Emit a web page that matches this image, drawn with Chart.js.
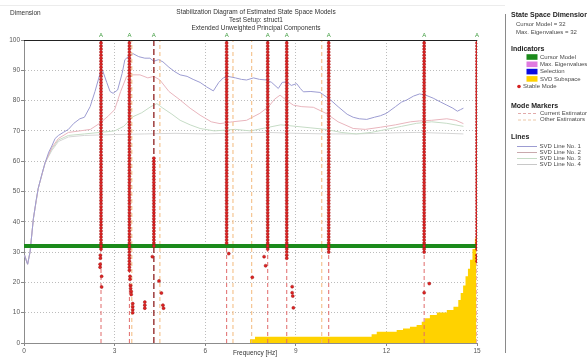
<!DOCTYPE html>
<html>
<head>
<meta charset="utf-8">
<script src="https://cdn.jsdelivr.net/npm/chart.js@4.4.1/dist/chart.umd.min.js"></script>
<style>
html, body { margin: 0; padding: 0; background: #fff; }
</style>
</head>
<body>
<canvas id="stabChart" width="587" height="360"></canvas>
<script>
// --- Data ---
// stable mode columns: frequency, highest and lowest stable model order
const colFreq = [2.55, 3.49, 4.30, 6.71, 8.07, 8.70, 10.09, 13.25, 15.0];
const colTop  = [100, 100, 61, 100, 100, 100, 100, 100, 100];
const colLow  = [31, 24, 32, 33, 31, 28, 30, 30, 31];

// isolated stable poles
const looseFreq  = [2.53, 2.53, 2.52, 2.52, 2.57, 2.57, 3.51, 3.51, 3.53, 3.53, 3.55, 3.55, 3.60, 3.60, 3.60, 3.60,
                    4.00, 4.00, 4.00, 4.25, 4.47, 4.55, 4.60, 4.62, 6.78, 7.95, 8.00, 7.56,
                    8.88, 8.88, 8.90, 8.92, 13.25, 13.42, 15.0, 15.0, 15.0];
const looseOrder = [29, 28, 26, 25, 22, 18.5, 22, 21, 19, 18, 17, 16, 13, 12, 11, 10,
                    13.5, 12.5, 11.5, 28.5, 20.5, 16.5, 12.5, 11.5, 29.5, 28.5, 25.5, 21.7,
                    18.6, 16.6, 15.5, 11.6, 16.6, 19.6, 29, 28, 27];

// other estimators (dashed markers)
const otherFreq = [3.57, 4.50, 6.92, 7.54, 9.86];

// SVD lines
const svd1Freq = [0.02, 0.08, 0.12, 0.2, 0.25, 0.31, 0.4, 0.47, 0.6, 0.7, 0.82, 0.92, 1.03, 1.14, 1.3, 1.47, 1.65, 1.85, 2.0, 2.19,
                  2.35, 2.52, 2.6, 2.74, 2.85, 2.95, 3.1, 3.25, 3.34, 3.45, 3.61, 3.8, 4.0, 4.17, 4.3, 4.45, 4.6, 4.8, 5.0, 5.17,
                  5.4, 5.6, 5.83, 6.05, 6.27, 6.45, 6.6, 6.75, 7.0, 7.2, 7.37, 7.6, 7.8, 8.03, 8.2, 8.42, 8.55, 8.7, 8.85, 9.03,
                  9.15, 9.25, 9.5, 9.8, 10.13, 10.4, 10.7, 10.9, 11.1, 11.35, 11.6, 11.8, 12.0, 12.3, 12.5, 12.67, 12.9, 13.1, 13.3, 13.55,
                  13.8, 14.0, 14.2, 14.35, 14.45, 14.55];
const svd1Val  = [29, 27, 26, 30, 35, 41, 47, 51, 56, 59.5, 63, 65, 67.5, 68.5, 69.5, 70.5, 72.5, 74, 74.5, 78,
                  83, 89, 90, 86, 83, 82.4, 83.5, 89, 93.5, 94.5, 95.5, 94.5, 94, 94, 93, 93.5, 92.8, 91, 89.5, 88.5,
                  88, 87, 86, 84.5, 83.2, 86, 87.5, 88, 87.5, 87, 86.8, 87.5, 87, 86.8, 86, 84, 86, 86.2, 85, 85.6,
                  84, 82.9, 83, 82.7, 80.4, 78, 75.5, 74.5, 74, 73.8, 74.5, 75, 75.8, 78, 79.5, 80.2, 81.5, 82.2, 81.8, 80.8,
                  79.5, 78.5, 77.5, 76.5, 77, 77.5];

const svd2Freq = [0.02, 0.12, 0.2, 0.31, 0.47, 0.7, 0.92, 1.14, 1.47, 1.85, 2.2, 2.52, 2.8, 3.0, 3.2, 3.4, 3.6, 3.84, 4.1, 4.3,
                  4.5, 4.8, 5.17, 5.5, 5.83, 6.2, 6.49, 6.9, 7.37, 7.81, 8.1, 8.3, 8.48, 8.7, 8.92, 9.2, 9.58, 10.0, 10.4, 10.9,
                  11.3, 11.8, 12.3, 12.8, 13.1, 13.5, 14.0, 14.3, 14.55];
const svd2Val  = [29, 26, 30, 41, 51, 59.5, 64.5, 67.5, 69.5, 70, 70.5, 72.6, 75, 77, 83, 88, 88.5, 88.5, 87.5, 88,
                  86.8, 83, 80.2, 77.5, 75.2, 73, 72.4, 73, 73.5, 75.8, 78, 80.5, 81.8, 80, 78.5, 78, 77.8, 75.8, 73, 70.8,
                  70.5, 71.2, 72, 73, 73.3, 73.5, 74, 73.5, 72.4];

const svd3Freq = [0.02, 0.12, 0.2, 0.31, 0.47, 0.7, 0.92, 1.14, 1.47, 2.0, 2.52, 3.0, 3.3, 3.61, 3.9, 4.2, 4.4, 4.6, 4.9, 5.17,
                  5.5, 5.83, 6.3, 7.0, 7.5, 8.0, 8.5, 9.0, 9.5, 10.0, 10.5, 11.0, 11.5, 12.0, 12.5, 13.0, 13.5, 14.0, 14.55];
const svd3Val  = [29, 26, 30, 41, 51, 59.5, 64, 67, 68.5, 69, 69.5, 70, 71.5, 74.7, 76, 78, 79, 77.5, 75.5, 73.5,
                  72, 70.8, 70, 70.5, 70, 71, 72, 71.5, 71, 70.5, 69.5, 69, 69.5, 70.5, 71.5, 72.5, 73, 72.5, 71.5];

const svd4Freq = [0.02, 0.12, 0.2, 0.31, 0.47, 0.7, 0.92, 1.14, 1.47, 2.0, 3.0, 4.0, 5.0, 6.0, 7.0, 8.0, 9.0, 10.0, 11.0, 12.0,
                  13.0, 14.0, 14.55];
const svd4Val  = [29, 26, 30, 41, 51, 59.5, 63.5, 66.5, 68, 68.5, 68.8, 69, 69.2, 69, 69.3, 69.5, 69.2, 69, 69, 69.3,
                  69.5, 69.2, 69];

// SVD subspace (step profile)
const subFreq = [7.48, 7.48, 7.65, 11.51, 11.68, 12.34, 12.55, 12.78, 13.0, 13.17, 13.28, 13.44, 13.67, 14.0, 14.22,
                 14.38, 14.46, 14.54, 14.62, 14.7, 14.77, 14.85, 14.93, 14.98];
const subVal  = [0, 1.2, 2.1, 2.9, 3.7, 4.3, 4.8, 5.4, 5.9, 7.0, 8.2, 9.2, 10.1, 10.9, 12,
                 14.2, 16.5, 19, 22, 24.5, 27.5, 31, 34.5, 39.5];

const cursorModel = 32;
const maxEigen = 32;
const xTicks = [0, 3, 6, 9, 12, 15];

// --- Helpers ---
const FONT = "'Liberation Sans', Arial, sans-serif";
const zip = (xs, ys) => xs.map((x, i) => ({ x: x, y: ys[i] }));
const vline = (f) => [{ x: f, y: 0 }, { x: f, y: 100 }];

const stableDots = [];
colFreq.forEach((f, i) => {
    for (let n = colLow[i]; n <= colTop[i]; n++) stableDots.push({ x: f, y: n });
});
looseFreq.forEach((f, i) => stableDots.push({ x: f, y: looseOrder[i] }));

// --- Datasets (first = drawn on top) ---
const datasets = [];
datasets.push({
    label: 'Stable Mode', type: 'scatter', data: stableDots,
    pointRadius: 1.5, pointBackgroundColor: '#e02222', pointBorderColor: '#9c1414', pointBorderWidth: 0.5
});
datasets.push({
    label: 'Cursor Model', data: [{ x: 0, y: cursorModel }, { x: 15, y: cursorModel }],
    borderColor: '#1b8a1b', borderWidth: 4, pointRadius: 0
});
colFreq.forEach((f, i) => {
    const dark = i === 2;
    datasets.push({
        label: 'cur' + i, data: vline(f), pointRadius: 0,
        borderColor: dark ? '#8e1f1f' : '#e06a6a', borderWidth: dark ? 1.3 : 1,
        borderDash: dark ? [6, 3] : [4, 3]
    });
});
otherFreq.forEach((f, i) => {
    datasets.push({
        label: 'oth' + i, data: vline(f), pointRadius: 0,
        borderColor: '#f3b97c', borderWidth: 1, borderDash: [4, 3]
    });
});
[[svd1Freq, svd1Val, '#9c9cd2'], [svd2Freq, svd2Val, '#e9b5bd'],
 [svd3Freq, svd3Val, '#c6dcc6'], [svd4Freq, svd4Val, '#d6d6d6']].forEach(([fx, vy, c], i) => {
    datasets.push({
        label: 'SVD Line No. ' + (i + 1), data: zip(fx, vy), pointRadius: 0,
        borderColor: c, borderWidth: 1, tension: 0
    });
});
datasets.push({
    label: 'SVD Subspace', data: zip(subFreq, subVal), pointRadius: 0, stepped: 'before',
    borderWidth: 0, borderColor: '#ffd200', backgroundColor: '#ffd200', fill: 'origin'
});

// --- Decorations: titles, top border, mode letters, side legend ---
const decor = {
    id: 'decor',
    afterDraw(chart) {
        const { ctx, chartArea: a, scales: { x } } = chart;
        ctx.save();
        // faint panel top
        ctx.strokeStyle = '#ececec'; ctx.lineWidth = 1;
        ctx.beginPath(); ctx.moveTo(0, 5.5); ctx.lineTo(505, 5.5); ctx.stroke();
        // top border
        ctx.strokeStyle = '#222';
        ctx.beginPath(); ctx.moveTo(a.left, a.top + 0.5); ctx.lineTo(a.right, a.top + 0.5); ctx.stroke();

        // mode letters
        ctx.fillStyle = '#3d9b3d'; ctx.font = '6px ' + FONT;
        ctx.textAlign = 'center'; ctx.textBaseline = 'middle';
        colFreq.forEach(f => ctx.fillText('A', x.getPixelForValue(f), a.top - 5));

        // titles
        ctx.fillStyle = '#333'; ctx.font = '6.5px ' + FONT;
        ctx.fillText('Stabilization Diagram of Estimated State Space Models', 256, 12.5);
        ctx.fillText('Test Setup: struct1', 256, 20.5);
        ctx.fillText('Extended Unweighted Principal Components', 256, 28.5);
        ctx.fillText('Frequency [Hz]', 255, 353.5);
        ctx.textAlign = 'left';
        ctx.fillText('Dimension', 10, 13.5);

        // separator
        ctx.strokeStyle = '#8a8a8a';
        ctx.beginPath(); ctx.moveTo(505.5, 14); ctx.lineTo(505.5, 353); ctx.stroke();

        // side legend
        const L = 511, lx = 540;
        const head = (t, y) => { ctx.fillStyle = '#222'; ctx.font = 'bold 7px ' + FONT; ctx.fillText(t, L, y); };
        const txt = (t, px, y) => { ctx.fillStyle = '#4a4a4a'; ctx.font = '6px ' + FONT; ctx.fillText(t, px, y); };

        head('State Space Dimensions', 15);
        txt('Cursor Model = ' + cursorModel, 516, 24);
        txt('Max. Eigenvalues = ' + maxEigen, 516, 32);

        head('Indicators', 49);
        [['#1b8a1b', 'Cursor Model', 57], ['#e07ae0', 'Max. Eigenvalues', 64.3],
         ['#0a0ae0', 'Selection', 71.6], ['#ffd200', 'SVD Subspace', 78.9]].forEach(([c, t, y]) => {
            ctx.fillStyle = c; ctx.fillRect(526.5, y - 2.8, 11, 5.6);
            txt(t, lx, y);
        });
        ctx.fillStyle = '#d42020';
        ctx.beginPath(); ctx.arc(519, 86.5, 1.8, 0, Math.PI * 2); ctx.fill();
        txt('Stable Mode', 523, 86.5);

        head('Mode Markers', 106);
        [['#e2aaaa', 'Current Estimator', 113], ['#ecc7a8', 'Other Estimators', 119.5]].forEach(([c, t, y]) => {
            ctx.strokeStyle = c; ctx.setLineDash([3, 2]);
            ctx.beginPath(); ctx.moveTo(518, y + 0.5); ctx.lineTo(537, y + 0.5); ctx.stroke();
            ctx.setLineDash([]);
            txt(t, lx, y);
        });

        head('Lines', 137);
        [['#9c9cd2', 146], ['#c9a9ad', 152], ['#c6dcc6', 158], ['#c8c8c8', 164]].forEach(([c, y], i) => {
            ctx.strokeStyle = c;
            ctx.beginPath(); ctx.moveTo(517, y + 0.5); ctx.lineTo(537, y + 0.5); ctx.stroke();
            txt('SVD Line No. ' + (i + 1), 539.5, y);
        });
        ctx.restore();
    }
};

Chart.defaults.font.family = FONT;
Chart.defaults.font.size = 6.5;
Chart.defaults.color = '#555';

new Chart(document.getElementById('stabChart'), {
    type: 'line',
    data: { datasets: datasets },
    options: {
        responsive: false,
        animation: false,
        layout: { padding: { top: 40, right: 110, left: 0, bottom: 0 } },
        plugins: { legend: { display: false }, tooltip: { enabled: false }, title: { display: false } },
        scales: {
            x: {
                type: 'linear', min: 0, max: 15,
                afterBuildTicks: (s) => { s.ticks = xTicks.map(v => ({ value: v })); },
                afterFit: (s) => { s.height = 17; },
                grid: { color: '#bcbcbc', tickLength: 3, tickColor: '#888' },
                border: { color: '#8c8c8c', dash: [1, 2] },
                ticks: { padding: 1, maxRotation: 0, color: '#555' }
            },
            y: {
                min: 0, max: 100,
                ticks: { stepSize: 10, padding: 1, color: '#555' },
                afterFit: (s) => { s.width = 24; },
                grid: { color: '#bcbcbc', tickLength: 3, tickColor: '#888' },
                border: { color: '#8c8c8c', dash: [1, 2] }
            }
        }
    },
    plugins: [decor]
});
</script>
</body>
</html>
